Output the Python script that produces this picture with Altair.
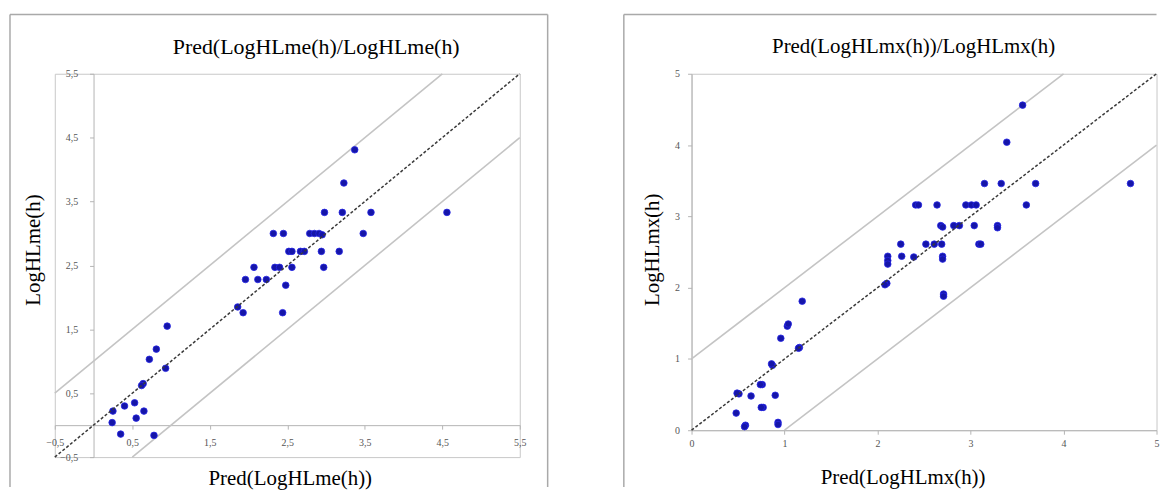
import altair as alt
import pandas as pd

# ---------------- data ----------------
# Left panel: Pred(LogHLme(h)) (x) vs LogHLme(h) (y)
me_pred = [3.37, 3.23, 2.98, 3.21, 3.58, 4.56,
           2.32, 2.45, 2.79, 2.85, 2.91, 2.95, 3.48,
           2.52, 2.56, 2.67, 2.72, 2.94, 3.17,
           2.07, 2.34, 2.40, 2.56, 2.97,
           1.96, 2.12, 2.23, 2.48,
           1.86, 1.93, 2.44,
           0.95, 0.81, 0.72, 0.93, 0.64, 0.62,
           0.53, 0.40, 0.25, 0.65, 0.55, 0.24, 0.35, 0.78]
me_obs = [4.31, 3.79, 3.33, 3.33, 3.33, 3.33,
          3.00, 3.00, 3.00, 3.00, 3.00, 2.98, 3.00,
          2.72, 2.72, 2.72, 2.72, 2.72, 2.72,
          2.47, 2.47, 2.47, 2.47, 2.47,
          2.28, 2.28, 2.28, 2.19,
          1.85, 1.76, 1.76,
          1.55, 1.19, 1.03, 0.89, 0.65, 0.62,
          0.35, 0.30, 0.22, 0.22, 0.11, 0.04, -0.14, -0.16]

# Right panel: Pred(LogHLmx(h)) (x) vs LogHLmx(h) (y)
mx_pred = [3.56, 3.39,
           3.15, 3.33, 3.70, 4.72,
           2.41, 2.44, 2.64, 2.95, 3.01, 3.06, 3.60,
           2.68, 2.70, 2.82, 2.88, 3.04, 3.29, 3.29,
           2.25, 2.52, 2.61, 2.69, 3.09, 3.11,
           2.11, 2.11, 2.11, 2.26, 2.39, 2.70, 2.70,
           2.10, 2.08,
           2.71, 2.71,
           1.19, 1.03, 1.04, 0.96, 1.16, 1.15, 0.87, 0.86,
           0.76, 0.74, 0.51, 0.49, 0.64, 0.90, 0.77, 0.75,
           0.48, 0.58, 0.57, 0.93, 0.93]
mx_obs = [4.56, 4.04,
          3.46, 3.46, 3.46, 3.46,
          3.16, 3.16, 3.16, 3.16, 3.16, 3.16, 3.16,
          2.87, 2.85, 2.87, 2.87, 2.87, 2.87, 2.84,
          2.61, 2.61, 2.61, 2.61, 2.61, 2.61,
          2.44, 2.38, 2.33, 2.44, 2.43, 2.44, 2.40,
          2.06, 2.04,
          1.91, 1.88,
          1.81, 1.46, 1.49, 1.29, 1.16, 1.15, 0.91, 0.93,
          0.64, 0.64, 0.51, 0.52, 0.48, 0.49, 0.32, 0.32,
          0.24, 0.07, 0.05, 0.11, 0.08]

me_domain = [-0.5, 5.5]
mx_domain = [0, 5]
me_ticks = [-0.5, 0.5, 1.5, 2.5, 3.5, 4.5, 5.5]
mx_ticks = [0, 1, 2, 3, 4, 5]
band_offsets = [1, 0, -1]          # reference lines y = x + offset

me_title = "Pred(LogHLme(h)/LogHLme(h)"
me_xtitle = "Pred(LogHLme(h))"
me_ytitle = "LogHLme(h)"
mx_title = "Pred(LogHLmx(h))/LogHLmx(h)"
mx_xtitle = "Pred(LogHLmx(h))"
mx_ytitle = "LogHLmx(h)"

SERIF = "Liberation Serif"
POINT_FILL = "#1515a8"
POINT_STROKE = "#2626e6"
BAND_COLOR = "#c4c4c4"
DIAG_COLOR = "#3a3a3a"
BORDER_COLOR = "#a9a9a9"
AXIS_COLOR = "#b4b4b4"


def ref_lines(domain):
    lo, hi = domain
    rows = []
    for off in band_offsets:
        x0 = max(lo, lo - off)
        x1 = min(hi, hi - off)
        for xv in (x0, x1):
            rows.append({"x": xv, "y": xv + off, "offset": off})
    return pd.DataFrame(rows)


def panel(pred, obs, domain, ticks, title, xtitle, ytitle, geo):
    W, H = geo["W"], geo["H"]
    span = domain[1] - domain[0]
    xoff = -(0 - domain[0]) / span * H      # move x axis to y = 0
    yoff = -(0 - domain[0]) / span * W      # move y axis to x = 0
    lab = geo["labelExpr"]

    xaxis = alt.Axis(values=ticks, labelExpr=lab, offset=xoff, title=xtitle,
                     titleX=geo["titleX_x"], titleY=geo["titleY_x"],
                     titleAlign="center", titleBaseline="middle",
                     labelPadding=geo["lpx"], tickSize=4,
                     labelFlush=False, labelOverlap=False, grid=False)
    yaxis = alt.Axis(values=ticks, labelExpr=lab, offset=yoff, title=ytitle,
                     titleX=geo["titleX_y"], titleY=geo["titleY_y"],
                     titleAlign="center", titleBaseline="middle", titleAngle=-90,
                     labelPadding=geo["lpy"], tickSize=4,
                     labelFlush=False, labelOverlap=False, grid=False)
    sc = alt.Scale(domain=domain, nice=False, zero=False)

    def X():
        return alt.X("x:Q", scale=sc, axis=xaxis)

    def Y():
        return alt.Y("y:Q", scale=sc, axis=yaxis)

    pts = pd.DataFrame({"x": pred, "y": obs})
    lines = ref_lines(domain)

    bands = alt.Chart(lines).transform_filter("datum.offset != 0").mark_line(
        color=BAND_COLOR, strokeWidth=1.6).encode(x=X(), y=Y(), detail="offset:N")
    diag = alt.Chart(lines).transform_filter("datum.offset == 0").mark_line(
        color=DIAG_COLOR, strokeWidth=1.5, strokeDash=[3, 2]).encode(x=X(), y=Y())
    points = alt.Chart(pts).mark_point(
        filled=True, shape="circle", size=44, fill=POINT_FILL, stroke=POINT_STROKE,
        strokeWidth=0.8, opacity=1).encode(x=X(), y=Y())

    one = pd.DataFrame({"k": [0]})
    bl, br, bt, bb = geo["bl"], geo["br"], geo["bt"], geo["bb"]
    borders = [
        alt.Chart(one).mark_rule(color=BORDER_COLOR, strokeWidth=1.5).encode(
            x=alt.value(bl), y=alt.value(bt), y2=alt.value(bb)),
        alt.Chart(one).mark_rule(color=BORDER_COLOR, strokeWidth=1.5).encode(
            x=alt.value(bl), x2=alt.value(br if br is not None else W), y=alt.value(bt)),
    ]
    if br is not None:
        borders.append(alt.Chart(one).mark_rule(color=BORDER_COLOR, strokeWidth=1.5).encode(
            x=alt.value(br), y=alt.value(bt), y2=alt.value(bb)))

    head = alt.Chart(one).mark_text(
        font=SERIF, fontSize=geo["tfs"], color="#000000", align="center", baseline="middle"
    ).encode(x=alt.value(W / 2 + geo["tdx"]), y=alt.value(geo["ty"]), text=alt.value(title))

    ch = alt.layer(bands, points, diag, head, *borders).properties(width=W, height=H)
    return ch


left_geo = dict(W=467, H=385, labelExpr="replace(format(datum.value, '.1f'), '.', ',')",
                titleX_x=236, titleY_x=53.6, titleX_y=-60.4, titleY_y=176.5,
                lpx=8, lpy=12, bl=-45, br=495, bt=-59.5, bb=415,
                tdx=29, ty=-27, tfs=22)
right_geo = dict(W=467, H=358, labelExpr="format(datum.value, 'd')",
                 titleX_x=212, titleY_x=48, titleX_y=-39, titleY_y=176.3,
                 lpx=4, lpy=8, bl=-68, br=None, bt=-59.5, bb=415,
                 tdx=-10.5, ty=-27, tfs=21)

left = panel(me_pred, me_obs, me_domain, me_ticks, me_title, me_xtitle, me_ytitle, left_geo)
right = panel(mx_pred, mx_obs, mx_domain, mx_ticks, mx_title, mx_xtitle, mx_ytitle, right_geo)

chart = alt.hconcat(left, right, spacing=72.5).properties(
    padding={"left": 0, "top": 4, "right": 0, "bottom": 0},
    background="white",
).configure_view(
    stroke="#c8c8c8", strokeWidth=1
).configure_axis(
    labelFont=SERIF, labelFontSize=10, labelColor="#555555",
    titleFont=SERIF, titleFontSize=21, titleFontWeight="normal", titleColor="#000000",
    domainColor=AXIS_COLOR, tickColor=AXIS_COLOR, domainWidth=1,
)

chart.save("out.html", embed_options={"renderer": "svg", "actions": False})
